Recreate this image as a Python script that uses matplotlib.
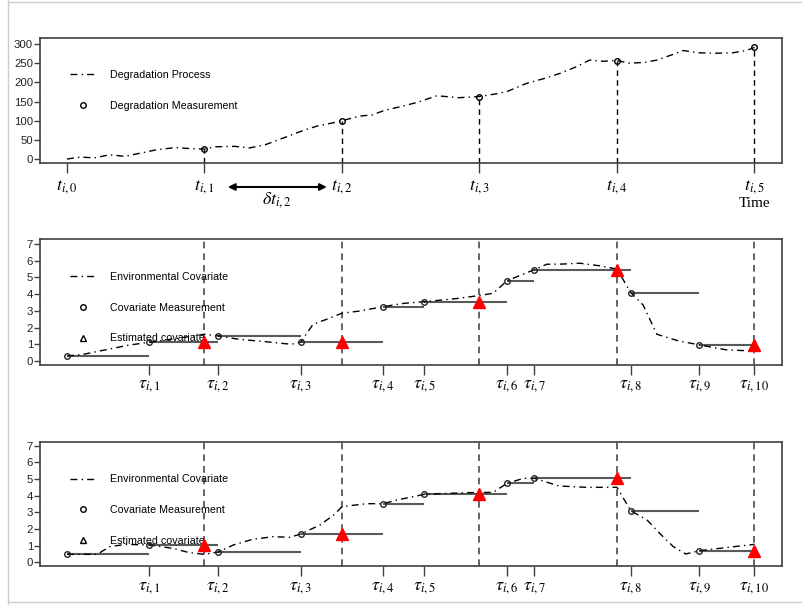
import numpy as np
import matplotlib.pyplot as plt
from matplotlib.lines import Line2D

plt.rcParams['font.family'] = 'Liberation Sans'
plt.rcParams['mathtext.fontset'] = 'stix'

# degradation path (top panel)
deg_t = [0.00, 0.10, 0.20, 0.31, 0.42, 0.53, 0.65, 0.79, 0.90, 1.00, 1.08, 1.22, 1.33, 1.44,
         1.59, 1.73, 1.82, 1.93, 2.00, 2.13, 2.22, 2.31, 2.42, 2.55, 2.69, 2.85, 3.00, 3.12,
         3.20, 3.34, 3.47, 3.59, 3.70, 3.80, 3.90, 4.00, 4.09, 4.20, 4.29, 4.40, 4.48, 4.60,
         4.72, 4.84, 4.94, 5.00]
deg_v = [0, 5, 3, 11, 7, 15, 24, 30, 27, 26, 32, 33, 29, 37,
         57, 76, 86, 94, 100, 112, 115, 127, 136, 148, 165, 160, 163, 170,
         176, 197, 210, 224, 240, 258, 255, 257, 250, 252, 258, 272, 283, 277,
         276, 277, 283, 291]
insp_t = [1, 2, 3, 4, 5]
insp_v = [26, 100, 163, 257, 291]

# covariate measurement times (tau_0 .. tau_10)
tau = [0.0, 0.6, 1.1, 1.7, 2.3, 2.6, 3.2, 3.4, 4.1, 4.6, 5.0]

# covariate path 1 (middle panel)
env1_t = [0.00, 0.12, 0.30, 0.45, 0.60, 0.80, 1.00, 1.10, 1.25, 1.45, 1.63, 1.70, 1.79, 1.89,
          2.00, 2.12, 2.30, 2.45, 2.60, 2.85, 3.00, 3.10, 3.20, 3.32, 3.40, 3.49, 3.60, 3.73,
          3.88, 4.00, 4.10, 4.19, 4.29, 4.44, 4.60, 4.80, 5.00]
env1_v = [0.30, 0.40, 0.70, 0.95, 1.12, 1.35, 1.60, 1.50, 1.30, 1.15, 1.00, 1.12, 2.20, 2.50,
          2.86, 2.98, 3.25, 3.45, 3.55, 3.75, 3.92, 4.05, 4.80, 5.20, 5.47, 5.79, 5.80, 5.85,
          5.69, 5.50, 4.09, 3.35, 1.60, 1.22, 0.96, 0.66, 0.60]
meas1 = [0.30, 1.12, 1.47, 1.12, 3.25, 3.55, 4.80, 5.47, 4.09, 0.96]

# covariate path 2 (bottom panel)
env2_t = [0.00, 0.22, 0.31, 0.43, 0.60, 0.77, 0.89, 1.00, 1.10, 1.21, 1.35, 1.50, 1.62, 1.70,
          1.84, 1.94, 2.00, 2.18, 2.30, 2.40, 2.60, 2.91, 3.10, 3.20, 3.32, 3.40, 3.58, 3.78,
          4.00, 4.10, 4.22, 4.31, 4.41, 4.50, 4.60, 4.85, 5.00]
env2_v = [0.48, 0.48, 0.94, 1.08, 1.04, 0.84, 0.58, 0.48, 0.62, 1.04, 1.38, 1.54, 1.50, 1.70,
          2.24, 2.84, 3.34, 3.52, 3.52, 3.74, 4.08, 4.18, 4.20, 4.74, 5.04, 5.04, 4.58, 4.50,
          4.50, 3.10, 2.53, 1.74, 0.94, 0.50, 0.70, 0.94, 1.08]
meas2 = [0.48, 1.04, 0.62, 1.70, 3.52, 4.08, 4.74, 5.04, 3.10, 0.70]

t_labels = [r'$t_{i,%d}$' % k for k in range(6)]
tau_labels = [r'$\tau_{i,%d}$' % k for k in range(1, 11)]

W, H = 802, 605
fig = plt.figure(figsize=(W / 100, H / 100), dpi=100)


def px_axes(x0, y0, x1, y1):
    return fig.add_axes([x0 / W, 1 - y1 / H, (x1 - x0) / W, (y1 - y0) / H])


ax_top = px_axes(40, 38, 782, 163)
ax_mid = px_axes(40, 239, 782, 365)
ax_bot = px_axes(40, 442, 782, 566)

dashdot = (0, (5, 3, 1, 3))
spine_col = '#404040'
step_col = '#5a5a5a'

for ax in (ax_top, ax_mid, ax_bot):
    ax.set_xlim(-0.196, 5.2)
    for s in ax.spines.values():
        s.set_color(spine_col)
        s.set_linewidth(1.2)
    ax.tick_params(axis='y', direction='out', length=4, width=1, color=spine_col,
                   labelsize=8.2, pad=1, labelcolor='#222222')
    ax.tick_params(axis='x', direction='out', length=7, width=1, color=spine_col,
                   labelsize=13, pad=3)

# top: degradation
ax_top.set_ylim(-10.4, 315.7)
ax_top.set_yticks([0, 50, 100, 150, 200, 250, 300])
ax_top.plot(deg_t, deg_v, color='black', lw=1, linestyle=dashdot, zorder=3)
ax_top.vlines(insp_t, -10.4, insp_v, colors='black', linestyles=(0, (4, 3)), lw=1, zorder=2)
ax_top.plot(insp_t, insp_v, 'o', ms=4, mfc='none', mec='black', mew=1, zorder=4)
ax_top.set_xticks(range(6))
ax_top.set_xticklabels(t_labels)
ax_top.tick_params(axis='x', pad=4)

ax_top.annotate('', xy=(1.89, -0.192), xytext=(1.17, -0.192),
                xycoords=('data', 'axes fraction'), textcoords=('data', 'axes fraction'),
                arrowprops=dict(arrowstyle='<|-|>', color='black', lw=1.5,
                                mutation_scale=10, shrinkA=0, shrinkB=0),
                annotation_clip=False)
ax_top.text(1.53, -0.296, r'$\delta t_{i,2}$', fontsize=13, ha='center', va='center',
            transform=ax_top.get_xaxis_transform())
ax_top.text(5.0, -0.325, 'Time', fontsize=11, family='Liberation Serif', ha='center',
            va='center', transform=ax_top.get_xaxis_transform())

leg = ax_top.legend(handles=[
    Line2D([], [], color='black', lw=1, linestyle=dashdot),
    Line2D([], [], marker='o', ms=4, mfc='none', mec='black', mew=1, linestyle='none')],
    labels=['Degradation Process', 'Degradation Measurement'],
    loc='upper left', bbox_to_anchor=(0.040, 0.744), frameon=False, fontsize=7.7,
    handlelength=2.4, handletextpad=1.4, labelspacing=1.94, borderpad=0, borderaxespad=0)
leg.set_zorder(1)


# middle and bottom: covariates
def covariate_panel(ax, env_t, env_v, meas, ylim):
    ax.set_ylim(*ylim)
    ax.set_yticks(range(8))
    for t in insp_t:
        ax.axvline(t, color='#4a4a4a', lw=1.2, linestyle=(0, (4, 3)), zorder=1)
    ax.hlines(meas, tau[:-1], tau[1:], colors=step_col, lw=1.5, zorder=2)
    ax.plot(env_t, env_v, color='black', lw=1, linestyle=dashdot, zorder=3)
    ax.plot(tau[:-1], meas, 'o', ms=4, mfc='none', mec='#222222', mew=1, zorder=4)
    idx = np.searchsorted(tau, insp_t, side='right') - 1
    idx = np.minimum(idx, len(meas) - 1)
    est = [meas[i] for i in idx]
    ax.plot(insp_t, est, '^', ms=9, color='red', zorder=5)
    ax.set_xticks(tau[1:])
    ax.set_xticklabels(tau_labels)
    ax.tick_params(axis='x', pad=2)
    lg = ax.legend(handles=[
        Line2D([], [], color='black', lw=1, linestyle=dashdot),
        Line2D([], [], marker='o', ms=4, mfc='none', mec='black', mew=1, linestyle='none'),
        Line2D([], [], marker='^', ms=5, mfc='none', mec='black', mew=1, linestyle='none')],
        labels=['Environmental Covariate', 'Covariate Measurement', 'Estimated covariate'],
        loc='upper left', bbox_to_anchor=(0.040, 0.738), frameon=False, fontsize=7.7,
        handlelength=2.4, handletextpad=1.4, labelspacing=1.93, borderpad=0, borderaxespad=0)
    lg.set_zorder(1)


covariate_panel(ax_mid, env1_t, env1_v, meas1, (-0.24, 7.30))
covariate_panel(ax_bot, env2_t, env2_v, meas2, (-0.22, 7.22))

# light page frame
frame = dict(color='#cccccc', lw=1, transform=fig.transFigure)
fig.add_artist(Line2D([8 / W, 8 / W], [0, 1], **frame))
fig.add_artist(Line2D([8 / W, 1], [1 - 602 / H, 1 - 602 / H], **frame))
fig.add_artist(Line2D([8 / W, 1], [1 - 1.5 / H, 1 - 1.5 / H], **frame))

fig.savefig('out.png', dpi=100)
